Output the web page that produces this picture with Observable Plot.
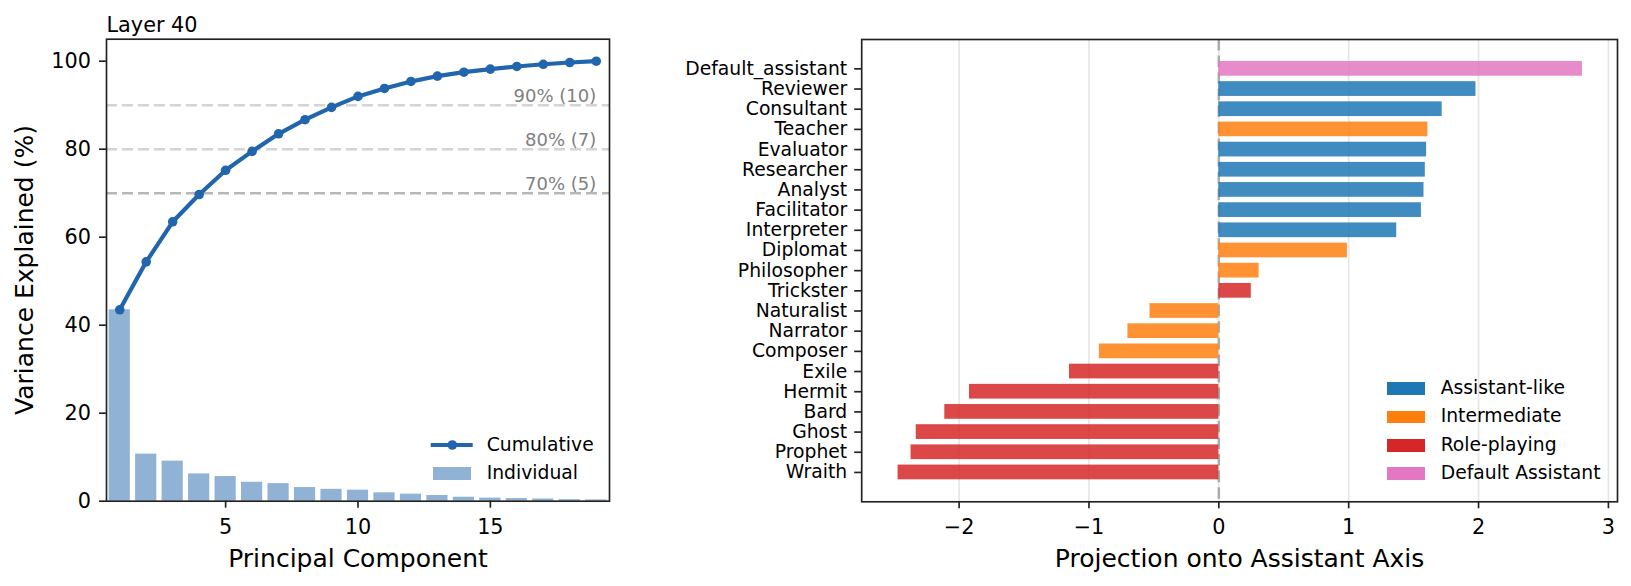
<!DOCTYPE html>
<html><head><meta charset="utf-8">
<script src="https://cdn.jsdelivr.net/npm/d3@7"></script>
<script src="https://cdn.jsdelivr.net/npm/@observablehq/plot@0.6"></script>
<style>
body{margin:0;background:#fff;font-family:"DejaVu Sans",sans-serif;}
#wrap{position:relative;width:1631px;height:586px;overflow:hidden;}
#left{position:absolute;left:0;top:0;}
#right{position:absolute;left:640px;top:0;}
.lt{position:absolute;font-size:18.75px;line-height:22px;height:22px;color:#000;white-space:nowrap;}
.sw{position:absolute;}
#ylab{position:absolute;width:400px;height:30px;line-height:30px;text-align:center;font-size:25px;color:#000;white-space:nowrap;transform:rotate(-90deg);transform-origin:50% 50%;}
</style></head><body>
<div id="wrap"><div id="left"></div><div id="right"></div></div>
<script>
// ---- Left panel data ----
const components = [1,2,3,4,5,6,7,8,9,10,11,12,13,14,15,16,17,18,19];
const individual = [43.5,10.7,9.1,6.2,5.6,4.3,4.0,3.1,2.7,2.5,1.9,1.6,1.3,0.9,0.7,0.6,0.5,0.35,0.3];
const cumulative = [43.5,54.4,63.5,69.7,75.2,79.5,83.5,86.7,89.5,92.0,93.8,95.4,96.6,97.5,98.2,98.8,99.3,99.7,100];
const thresholdPct = [70,80,90];
const thresholdPC = [5,7,10];
const pcTicks = [5,10,15];
const varTicks = [0,20,40,60,80,100];

// ---- Right panel data ----
const roles = ["Default_assistant","Reviewer","Consultant","Teacher","Evaluator","Researcher","Analyst","Facilitator","Interpreter","Diplomat","Philosopher","Trickster","Naturalist","Narrator","Composer","Exile","Hermit","Bard","Ghost","Prophet","Wraith"];
const projections = [2.80,1.98,1.72,1.61,1.60,1.59,1.58,1.56,1.37,0.99,0.31,0.25,-0.53,-0.70,-0.92,-1.15,-1.92,-2.11,-2.33,-2.37,-2.47];
const roleGroups = ["Default Assistant","Assistant-like","Assistant-like","Intermediate","Assistant-like","Assistant-like","Assistant-like","Assistant-like","Assistant-like","Intermediate","Intermediate","Role-playing","Intermediate","Intermediate","Intermediate","Role-playing","Role-playing","Role-playing","Role-playing","Role-playing","Role-playing"];
const groupNames = ["Assistant-like","Intermediate","Role-playing","Default Assistant"];
const groupColors = ["#1f77b4","#ff7f0e","#d62728","#e377c2"];
const projTicks = [-2,-1,0,1,2,3];

const pcData = components.map((pc,i)=>({pc, individual: individual[i], cumulative: cumulative[i]}));
const thrData = thresholdPct.map((v,i)=>({value:v, label:`${v}% (${thresholdPC[i]})`}));
const roleData = roles.map((r,i)=>({role:r, value:projections[i], group:roleGroups[i]}));

const FONT = "DejaVu Sans";

const left = Plot.plot({
  width: 640, height: 586,
  marginLeft: 106, marginRight: 31, marginTop: 38.7, marginBottom: 85.3,
  style: {fontFamily: FONT, fontSize: "20.8px", color: "#000", background: "transparent", overflow: "visible"},
  x: {domain: [0.5, 19.5]},
  y: {domain: [0, 105]},
  marks: [
    Plot.rectY(pcData, {x1: d => d.pc - 0.4, x2: d => d.pc + 0.4, y1: 0, y2: "individual", fill: "#2166ac", fillOpacity: 0.5}),
    Plot.ruleY(thrData, {y: "value", stroke: d => d.value === 70 ? "#b8b8b8" : "#d4d4d4", strokeWidth: 2.4, strokeDasharray: "11,5"}),
    Plot.text(thrData, {x: 19, y: "value", text: "label", textAnchor: "end", lineAnchor: "bottom", dy: -3.5, fill: "#808080", fontSize: 18}),
    Plot.line(pcData, {x: "pc", y: "cumulative", stroke: "#2166ac", strokeWidth: 4.2}),
    Plot.dot(pcData, {x: "pc", y: "cumulative", r: 4.8, fill: "#2166ac", stroke: "none"}),
    Plot.frame({stroke: "#222", strokeWidth: 1.67}),
    Plot.axisX({ticks: pcTicks, tickFormat: "d", tickSize: 7, tickPadding: 11, label: null, stroke: "#222", strokeWidth: 1.67, fill: "#000", fontSize: 20.8}),
    Plot.axisY({ticks: varTicks, tickFormat: "d", tickSize: 7, tickPadding: 8.5, label: null, stroke: "#222", strokeWidth: 1.67, fill: "#000", fontSize: 20.8}),
    Plot.text(["Principal Component"], {frameAnchor: "bottom", dy: 57.3, lineAnchor: "middle", fontSize: 25, fill: "#000"}),
    Plot.text(["Layer 40"], {frameAnchor: "top-left", dy: -7.4, lineAnchor: "bottom", textAnchor: "start", fontSize: 20.8, fill: "#000"})
  ]
});
document.getElementById("left").appendChild(left);

const right = Plot.plot({
  width: 991, height: 586,
  marginLeft: 221.2, marginRight: 14, marginTop: 39, marginBottom: 84.7,
  style: {fontFamily: FONT, fontSize: "20.8px", color: "#000", background: "transparent", overflow: "visible"},
  x: {domain: [-2.75, 3.07]},
  y: {type: "band", domain: roles, paddingInner: 0.27, paddingOuter: 1.09, round: false},
  color: {domain: groupNames, range: groupColors},
  marks: [
    Plot.gridX({ticks: projTicks, stroke: "#e6e6e6", strokeOpacity: 1, strokeWidth: 1.7}),
    Plot.ruleX([0], {stroke: "#ababab", strokeWidth: 2.5, strokeDasharray: "11.6,5"}),
    Plot.barX(roleData, {x: "value", y: "role", fill: "group", fillOpacity: 0.85}),
    Plot.frame({stroke: "#222", strokeWidth: 1.67}),
    Plot.axisX({ticks: projTicks, tickFormat: "d", tickSize: 7, tickPadding: 10, label: null, stroke: "#222", strokeWidth: 1.67, fill: "#000", fontSize: 20.8}),
    Plot.axisY({tickSize: 7, tickPadding: 7.5, label: null, stroke: "#222", strokeWidth: 1.67, fill: "#000", fontSize: 18.75}),
    Plot.text(["Projection onto Assistant Axis"], {frameAnchor: "bottom", dy: 57, lineAnchor: "middle", fontSize: 25, fill: "#000"})
  ]
});
document.getElementById("right").appendChild(right);

// ---- Labels & legends (HTML overlays) ----
const wrap = document.getElementById("wrap");
const yl = document.createElement("div");
yl.id = "ylab"; yl.textContent = "Variance Explained (%)";
yl.style.left = (25 - 200) + "px"; yl.style.top = (269.7 - 15) + "px";
wrap.appendChild(yl);

function addText(txt, x, cy){
  const d = document.createElement("div");
  d.className = "lt"; d.textContent = txt;
  d.style.left = x + "px"; d.style.top = (cy - 11) + "px";
  wrap.appendChild(d);
}
function addPatch(color, x, cy, w, h, op){
  const d = document.createElement("div");
  d.className = "sw";
  d.style.left = x + "px"; d.style.top = (cy - h/2) + "px";
  d.style.width = w + "px"; d.style.height = h + "px";
  d.style.background = color; d.style.opacity = op;
  wrap.appendChild(d);
}
// left legend
const ls = document.createElementNS("http://www.w3.org/2000/svg","svg");
ls.setAttribute("width","44"); ls.setAttribute("height","12");
ls.style.position="absolute"; ls.style.left="430px"; ls.style.top="439px";
ls.innerHTML = '<line x1="0.7" x2="42.7" y1="6" y2="6" stroke="#2166ac" stroke-width="4.2"/><circle cx="22.3" cy="6" r="4.8" fill="#2166ac"/>';
wrap.appendChild(ls);
addText("Cumulative", 486.7, 444.5);
addPatch("#2166ac", 433.3, 473.7, 37.4, 12.7, 0.5);
addText("Individual", 486.7, 473.2);
// right legend
const legY = [388.7, 416.9, 445.2, 473.5];
groupNames.forEach((g,i)=>{
  addPatch(groupColors[i], 1387, legY[i], 38, 12.7, 1);
  addText(g, 1440.7, legY[i] - 0.5);
});
</script>
</body></html>
